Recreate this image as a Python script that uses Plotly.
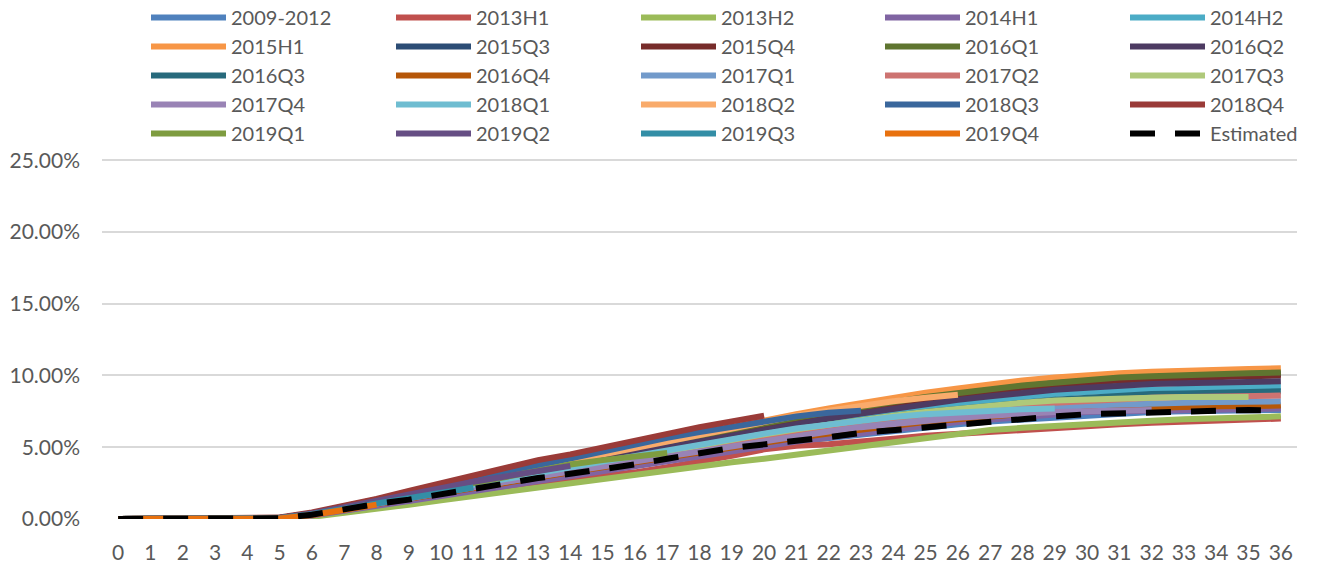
import plotly.graph_objects as go

MONTHS = list(range(37))

VINTAGES = [
    "2009-2012", "2013H1", "2013H2", "2014H1", "2014H2",
    "2015H1", "2015Q3", "2015Q4", "2016Q1", "2016Q2",
    "2016Q3", "2016Q4", "2017Q1", "2017Q2", "2017Q3",
    "2017Q4", "2018Q1", "2018Q2", "2018Q3", "2018Q4",
    "2019Q1", "2019Q2", "2019Q3", "2019Q4",
]

COLORS = {
    "2009-2012": "#4F81BD", "2013H1": "#C0504D", "2013H2": "#9BBB59",
    "2014H1": "#8064A2", "2014H2": "#4BACC6", "2015H1": "#F79646",
    "2015Q3": "#2C4D75", "2015Q4": "#772C2A", "2016Q1": "#5F7530",
    "2016Q2": "#4D3B62", "2016Q3": "#276A7C", "2016Q4": "#B65708",
    "2017Q1": "#729ACA", "2017Q2": "#CD7371", "2017Q3": "#AFC97A",
    "2017Q4": "#9983B5", "2018Q1": "#6FBDD1", "2018Q2": "#F9AB6B",
    "2018Q3": "#3A679C", "2018Q4": "#9A3B38", "2019Q1": "#7E9C40",
    "2019Q2": "#664E84", "2019Q3": "#338EA6", "2019Q4": "#E8710E",
}

# cumulative rate (%) by month on book, one list per vintage
v2009_2012 = [0, 0, 0, 0, 0, 0.05, 0.3, 0.65, 1.0, 1.35, 1.75, 2.15, 2.5, 2.85, 3.2, 3.5, 3.85, 4.2, 4.55, 4.9,
              5.15, 5.4, 5.7, 5.95, 6.15, 6.4, 6.6, 6.8, 6.95, 7.1, 7.25, 7.35, 7.45, 7.5, 7.55, 7.6, 7.6]
v2013H1 = [0, 0, 0, 0, 0, 0.03, 0.2, 0.5, 0.8, 1.1, 1.45, 1.8, 2.1, 2.45, 2.7, 2.95, 3.25, 3.6, 3.95, 4.4,
           4.85, 5.1, 5.2, 5.35, 5.6, 5.8, 5.95, 6.1, 6.25, 6.4, 6.5, 6.6, 6.7, 6.8, 6.9, 6.95, 7.0]
v2013H2 = [0, 0, 0, 0, 0, 0.02, 0.15, 0.4, 0.7, 1.0, 1.3, 1.6, 1.85, 2.2, 2.5, 2.8, 3.05, 3.4, 3.75, 3.95,
           4.2, 4.5, 4.8, 5.05, 5.4, 5.65, 5.95, 6.2, 6.35, 6.5, 6.65, 6.75, 6.85, 6.95, 7.05, 7.1, 7.15]
v2014H1 = [0, 0, 0, 0, 0, 0.04, 0.25, 0.55, 0.9, 1.25, 1.6, 1.95, 2.3, 2.7, 3.0, 3.3, 3.65, 4.05, 4.45, 4.8,
           5.1, 5.4, 5.7, 6.0, 6.25, 6.5, 6.75, 6.95, 7.15, 7.3, 7.45, 7.5, 7.55, 7.6, 7.65, 7.7, 7.7]
v2014H2 = [0, 0, 0, 0, 0, 0.06, 0.35, 0.75, 1.15, 1.55, 2.0, 2.45, 2.85, 3.3, 3.7, 4.1, 4.5, 4.95, 5.4, 5.8,
           6.15, 6.5, 6.85, 7.2, 7.5, 7.8, 8.05, 8.3, 8.5, 8.7, 8.85, 8.95, 9.05, 9.1, 9.15, 9.2, 9.2]
v2015H1 = [0, 0, 0, 0, 0, 0.08, 0.4, 0.85, 1.3, 1.8, 2.3, 2.8, 3.25, 3.75, 4.2, 4.65, 5.1, 5.6, 6.05, 6.5,
           6.9, 7.3, 7.7, 8.1, 8.45, 8.8, 9.1, 9.4, 9.65, 9.85, 10.05, 10.15, 10.25, 10.35, 10.4, 10.45, 10.5]
v2015Q3 = [0, 0, 0, 0, 0, 0.07, 0.38, 0.8, 1.25, 1.7, 2.2, 2.65, 3.1, 3.55, 4.0, 4.45, 4.9, 5.35, 5.8, 6.2,
           6.6, 7.0, 7.4, 7.75, 8.1, 8.45, 8.75, 9.0, 9.25, 9.45, 9.65, 9.75, 9.85, 9.95, 10.0, 10.05, 10.1]
v2015Q4 = [0, 0, 0, 0, 0, 0.07, 0.37, 0.8, 1.25, 1.7, 2.15, 2.6, 3.05, 3.5, 3.95, 4.4, 4.85, 5.3, 5.7, 6.1,
           6.5, 6.9, 7.3, 7.65, 8.0, 8.35, 8.65, 8.9, 9.15, 9.35, 9.55, 9.65, 9.75, 9.85, 9.9, 9.95, 10.0]
v2016Q1 = [0, 0, 0, 0, 0, 0.07, 0.38, 0.82, 1.28, 1.75, 2.2, 2.7, 3.15, 3.6, 4.05, 4.5, 4.95, 5.4, 5.85, 6.25,
           6.65, 7.05, 7.45, 7.8, 8.15, 8.5, 8.8, 9.05, 9.3, 9.5, 9.7, 9.85, 9.95, 10.05, 10.1, 10.15, 10.2]
v2016Q2 = [0, 0, 0, 0, 0, 0.06, 0.36, 0.78, 1.2, 1.65, 2.1, 2.55, 3.0, 3.4, 3.85, 4.25, 4.7, 5.1, 5.5, 5.9,
           6.3, 6.65, 7.0, 7.35, 7.7, 8.0, 8.3, 8.55, 8.8, 9.0, 9.15, 9.3, 9.4, 9.45, 9.5, 9.55, 9.6]
v2016Q3 = [0, 0, 0, 0, 0, 0.06, 0.34, 0.74, 1.15, 1.55, 2.0, 2.4, 2.8, 3.2, 3.6, 4.0, 4.4, 4.8, 5.2, 5.55,
           5.9, 6.25, 6.6, 6.9, 7.2, 7.45, 7.7, 7.9, 8.1, 8.3, 8.45, 8.6, 8.7, 8.75, 8.8, 8.85, 8.9]
v2016Q4 = [0, 0, 0, 0, 0, 0.05, 0.3, 0.68, 1.05, 1.4, 1.8, 2.2, 2.55, 2.9, 3.25, 3.6, 3.95, 4.3, 4.7, 5.05,
           5.35, 5.65, 5.95, 6.25, 6.5, 6.75, 6.95, 7.15, 7.35, 7.5, 7.6, 7.7, 7.75, 7.8, 7.85, 7.9, 7.9]
v2017Q1 = [0, 0, 0, 0, 0, 0.05, 0.32, 0.7, 1.1, 1.5, 1.9, 2.3, 2.65, 3.0, 3.4, 3.75, 4.1, 4.5, 4.9, 5.25,
           5.6, 5.9, 6.2, 6.5, 6.75, 7.0, 7.25, 7.45, 7.6, 7.75, 7.9, 8.0, 8.05, 8.1, 8.15, 8.2, 8.2]
v2017Q2 = [0, 0, 0, 0, 0, 0.06, 0.33, 0.72, 1.12, 1.52, 1.95, 2.35, 2.75, 3.15, 3.5, 3.9, 4.3, 4.7, 5.1, 5.45,
           5.8, 6.15, 6.5, 6.8, 7.05, 7.3, 7.55, 7.75, 7.95, 8.1, 8.25, 8.35, 8.45, 8.5, 8.55, 8.6, 8.6]
v2017Q3 = [0, 0, 0, 0, 0, 0.06, 0.34, 0.74, 1.15, 1.55, 2.0, 2.4, 2.8, 3.2, 3.6, 4.0, 4.4, 4.8, 5.2, 5.55,
           5.9, 6.25, 6.6, 6.9, 7.2, 7.45, 7.7, 7.9, 8.1, 8.25, 8.35, 8.4, 8.45, 8.5, 8.5, 8.5]
v2017Q4 = [0, 0, 0, 0, 0, 0.05, 0.3, 0.7, 1.1, 1.45, 1.85, 2.25, 2.6, 2.95, 3.3, 3.65, 4.0, 4.4, 4.8, 5.15,
           5.5, 5.8, 6.1, 6.4, 6.65, 6.85, 7.05, 7.2, 7.35, 7.45, 7.5, 7.55, 7.6]
v2018Q1 = [0, 0, 0, 0, 0, 0.06, 0.33, 0.75, 1.15, 1.55, 2.0, 2.4, 2.8, 3.2, 3.6, 4.0, 4.4, 4.85, 5.25, 5.6,
           5.95, 6.3, 6.6, 6.85, 7.1, 7.3, 7.45, 7.55, 7.65, 7.7]
v2018Q2 = [0, 0, 0, 0, 0, 0.07, 0.38, 0.82, 1.28, 1.75, 2.25, 2.7, 3.15, 3.6, 4.05, 4.5, 4.95, 5.45, 5.9, 6.35,
           6.8, 7.2, 7.55, 7.9, 8.2, 8.45, 8.65]
v2018Q3 = [0, 0, 0, 0, 0, 0.08, 0.4, 0.88, 1.35, 1.85, 2.35, 2.85, 3.35, 3.8, 4.25, 4.75, 5.2, 5.65, 6.05, 6.45,
           6.85, 7.15, 7.4, 7.55]
v2018Q4 = [0, 0, 0, 0, 0, 0.1, 0.45, 0.9, 1.4, 1.95, 2.5, 3.05, 3.55, 4.1, 4.5, 5.0, 5.5, 5.95, 6.4, 6.8, 7.2]
v2019Q1 = [0, 0, 0, 0, 0, 0.06, 0.35, 0.75, 1.15, 1.6, 2.05, 2.5, 2.95, 3.35, 3.8, 4.1, 4.35, 4.6]
v2019Q2 = [0, 0, 0, 0, 0, 0.07, 0.38, 0.8, 1.25, 1.7, 2.15, 2.6, 3.0, 3.4, 3.7]
v2019Q3 = [0, 0, 0, 0, 0, 0.05, 0.33, 0.72, 1.1, 1.45, 1.85, 2.2]
v2019Q4 = [0, 0, 0, 0, 0, 0.03, 0.28, 0.65, 1.0]

estimated = [0, 0, 0, 0, 0, 0.05, 0.3, 0.7, 1.05, 1.35, 1.75, 2.15, 2.5, 2.85, 3.15, 3.45, 3.8, 4.2, 4.6, 4.95,
             5.2, 5.4, 5.7, 6.0, 6.2, 6.4, 6.6, 6.85, 7.0, 7.15, 7.3, 7.35, 7.45, 7.5, 7.6, 7.6, 7.55]

SERIES = [
    v2009_2012, v2013H1, v2013H2, v2014H1, v2014H2, v2015H1, v2015Q3, v2015Q4,
    v2016Q1, v2016Q2, v2016Q3, v2016Q4, v2017Q1, v2017Q2, v2017Q3, v2017Q4,
    v2018Q1, v2018Q2, v2018Q3, v2018Q4, v2019Q1, v2019Q2, v2019Q3, v2019Q4,
]

Y_TICKS = [0, 5, 10, 15, 20, 25]

TEXT_GREY = "#595959"
TICK_FONT = dict(family="Lato, Carlito, sans-serif", size=21, color=TEXT_GREY)
LEGEND_FONT = dict(family="Lato, Carlito, sans-serif", size=20, color=TEXT_GREY)

# Excel lays the legend out in 5 columns; one plotly legend per column
LEGEND_IDS = ["legend", "legend2", "legend3", "legend4", "legend5"]
LEGEND_X = [146, 391, 636, 880, 1125]


def legend_for(i):
    return LEGEND_IDS[i % len(LEGEND_IDS)]


def build_figure():
    """Vintage curves plus the dashed estimate, Excel style."""
    fig = go.Figure()
    for i, (name, values) in enumerate(zip(VINTAGES, SERIES)):
        fig.add_trace(
            go.Scatter(
                x=MONTHS[: len(values)],
                y=values,
                mode="lines",
                name=name,
                legend=legend_for(i),
                line=dict(color=COLORS[name], width=6),
            )
        )

    fig.add_trace(
        go.Scatter(
            x=MONTHS,
            y=estimated,
            mode="lines",
            name="Estimated",
            legend=legend_for(len(VINTAGES)),
            line=dict(color="black", width=6, dash="25px,20px"),
        )
    )

    legends = {}
    for lid, lx in zip(LEGEND_IDS, LEGEND_X):
        legends[lid] = dict(
            orientation="v",
            xref="container",
            yref="paper",
            x=lx / 1323,
            y=1.443,
            xanchor="left",
            yanchor="top",
            itemwidth=75,
            font=LEGEND_FONT,
            bgcolor="rgba(0,0,0,0)",
            traceorder="normal",
        )

    fig.update_layout(
        width=1323,
        height=567,
        margin=dict(l=102, r=26, t=158, b=48, autoexpand=False),
        paper_bgcolor="white",
        plot_bgcolor="white",
        font=TICK_FONT,
        showlegend=True,
        **legends,
    )

    fig.update_xaxes(
        range=[-0.5, 36.5],
        tickmode="array",
        tickvals=MONTHS,
        ticktext=[str(m) for m in MONTHS],
        showgrid=False,
        zeroline=False,
        showline=False,
        ticks="",
        ticklabelstandoff=19,
    )
    # a little headroom so the 25% gridline is not clipped at the edge
    fig.update_yaxes(
        range=[0, 25.15],
        tickmode="array",
        tickvals=Y_TICKS,
        ticktext=[f"{t:.2f}%" for t in Y_TICKS],
        showgrid=True,
        gridcolor="#D9D9D9",
        gridwidth=1.5,
        zeroline=False,
        showline=False,
        ticks="",
        ticklabelstandoff=21,
    )
    return fig


fig = build_figure()
# page body margin would shift the chart by 8px
fig.write_html(
    "out.html",
    config={"displayModeBar": False},
    post_script="document.body.style.margin = '0px';",
)
